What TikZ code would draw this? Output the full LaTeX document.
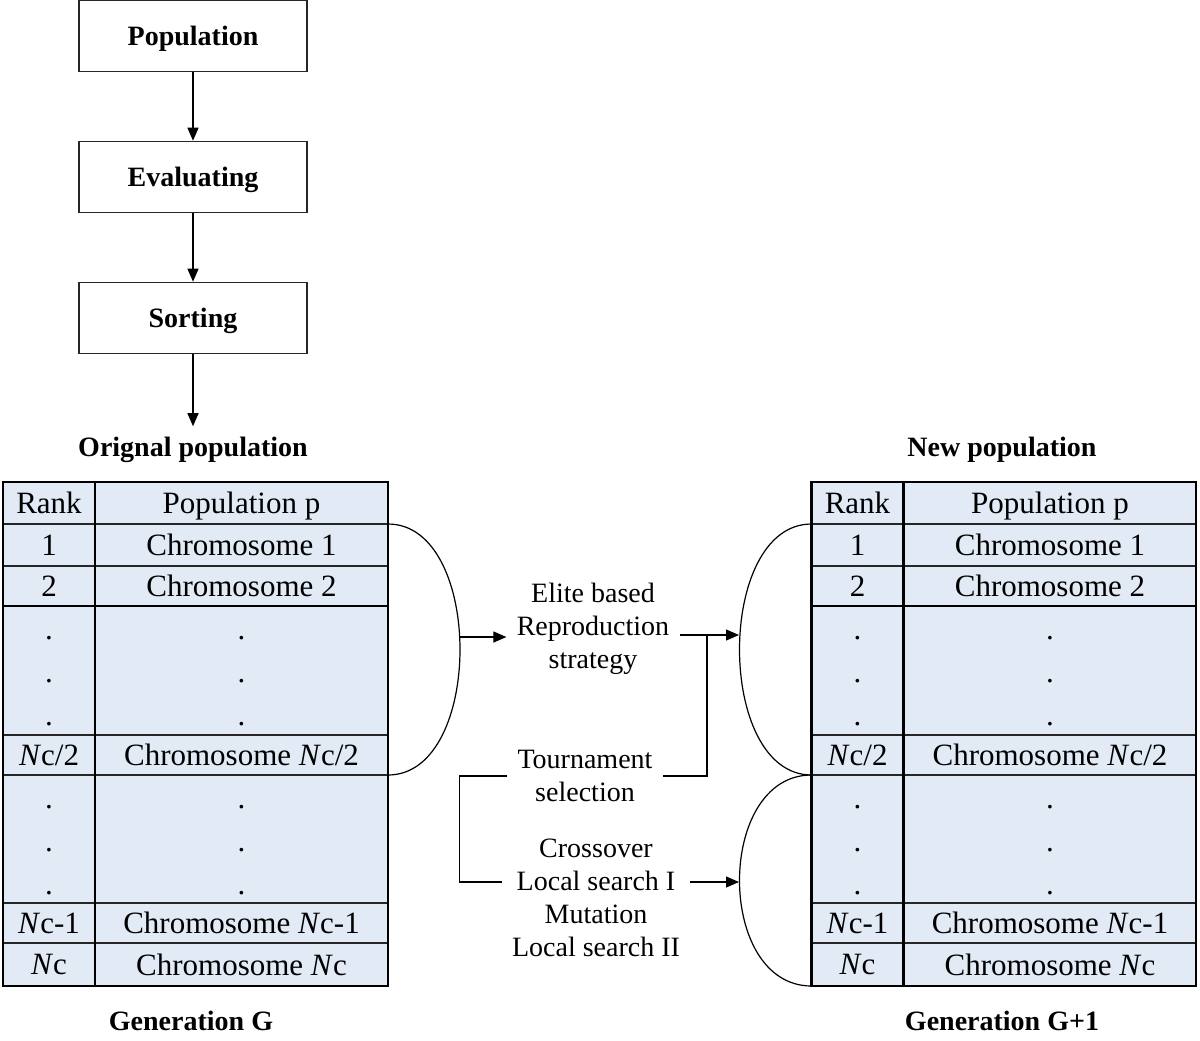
\documentclass[tikz,border=0pt]{standalone}
\usepackage{fontspec}
\setmainfont{Liberation Serif}
\usetikzlibrary{arrows.meta}
\definecolor{cellfill}{RGB}{226,234,246}
\newcommand{\vdotcol}{\rule{0pt}{12.5pt}.\\.\\.}

\begin{document}
\begin{tikzpicture}
[
    x=0.5pt,y=-0.5pt,
    stepbox/.style={rectangle,draw=black!85,line width=0.8pt,minimum width=114pt,minimum height=35.5pt,text depth=0pt,font=\fontsize{14}{17}\selectfont\bfseries},
    title/.style={text depth=0pt,font=\fontsize{14}{17}\selectfont\bfseries},
    cell/.style={rectangle,draw=black!85,fill=cellfill,line width=0.8pt,inner sep=0pt,outer sep=0pt,align=center,font=\fontsize{15.5}{21.5}\selectfont},
    rankcell/.style={cell,minimum width=46pt},
    popcell/.style={cell,minimum width=146.5pt},
    headcell/.style={text depth=0pt},
    oper/.style={align=center,inner sep=5pt,font=\fontsize{14}{16.5}\selectfont},
    flow/.style={-{Triangle[length=6.5pt,width=5.5pt]},line width=0.6pt},
    link/.style={line width=0.6pt},
    thickline/.style={line width=1.3pt}
]
\useasboundingbox (0,0) rectangle (1200,1040);

% flow at the top
\node (popu) at (193,36) [stepbox] {Population};
\node (eval) at (193,177) [stepbox] {Evaluating};
\node (sort) at (193,318) [stepbox] {Sorting};
\node (orig) at (193,447) [title] {Orignal population};
\node (newp) at (1002,447) [title] {New population};

\draw[flow] (popu) -- (eval);
\draw[flow] (eval) -- (sort);
\draw[flow,shorten >=2pt] (sort) -- (orig);

% generation G
\node at (49,503) [rankcell,headcell,minimum height=21pt] (lrank) {Rank};
\node at (241.5,503) [popcell,headcell,minimum height=21pt] (lpop) {Population p};
\node at (49,545) [rankcell,minimum height=21pt] (l1) {1};
\node at (241.5,545) [popcell,minimum height=21pt] (lp1) {Chromosome 1};
\node at (49,586) [rankcell,minimum height=20pt] (l2) {2};
\node at (241.5,586) [popcell,minimum height=20pt] (lp2) {Chromosome 2};
\node at (49,670.5) [rankcell,minimum height=64.5pt] (ld1) {\vdotcol};
\node at (241.5,670.5) [popcell,minimum height=64.5pt] (lpd1) {\vdotcol};
\node at (49,755) [rankcell,minimum height=20pt] (lh) {\textit{N}c/2};
\node at (241.5,755) [popcell,minimum height=20pt] (lph) {Chromosome \textit{N}c/2};
\node at (49,839) [rankcell,minimum height=64pt] (ld2) {\vdotcol};
\node at (241.5,839) [popcell,minimum height=64pt] (lpd2) {\vdotcol};
\node at (49,923) [rankcell,minimum height=20pt] (ln1) {\textit{N}c-1};
\node at (241.5,923) [popcell,minimum height=20pt] (lpn1) {Chromosome \textit{N}c-1};
\node at (49,964.5) [rankcell,minimum height=21.5pt] (ln) {\textit{N}c};
\node at (241.5,964.5) [popcell,minimum height=21.5pt] (lpn) {Chromosome \textit{N}c};
\draw[thickline] (lrank.north west) rectangle (lpn.south east);
\draw[thickline] (lrank.north east) -- (ln.south east);
\draw[thickline] (l2.south west) -- (lp2.south east);
\node (geng) at (191,1021) [title] {Generation G};

% generation G+1
\node at (857.5,503) [rankcell,headcell,minimum height=21pt] (rrank) {Rank};
\node at (1050,503) [popcell,headcell,minimum width=146pt,minimum height=21pt] (rpop) {Population p};
\node at (857.5,545) [rankcell,minimum height=21pt] (r1) {1};
\node at (1050,545) [popcell,minimum width=146pt,minimum height=21pt] (rp1) {Chromosome 1};
\node at (857.5,586) [rankcell,minimum height=20pt] (r2) {2};
\node at (1050,586) [popcell,minimum width=146pt,minimum height=20pt] (rp2) {Chromosome 2};
\node at (857.5,670.5) [rankcell,minimum height=64.5pt] (rd1) {\vdotcol};
\node at (1050,670.5) [popcell,minimum width=146pt,minimum height=64.5pt] (rpd1) {\vdotcol};
\node at (857.5,755) [rankcell,minimum height=20pt] (rh) {\textit{N}c/2};
\node at (1050,755) [popcell,minimum width=146pt,minimum height=20pt] (rph) {Chromosome \textit{N}c/2};
\node at (857.5,839) [rankcell,minimum height=64pt] (rd2) {\vdotcol};
\node at (1050,839) [popcell,minimum width=146pt,minimum height=64pt] (rpd2) {\vdotcol};
\node at (857.5,923) [rankcell,minimum height=20pt] (rn1) {\textit{N}c-1};
\node at (1050,923) [popcell,minimum width=146pt,minimum height=20pt] (rpn1) {Chromosome \textit{N}c-1};
\node at (857.5,964.5) [rankcell,minimum height=21.5pt] (rn) {\textit{N}c};
\node at (1050,964.5) [popcell,minimum width=146pt,minimum height=21.5pt] (rpn) {Chromosome \textit{N}c};
\draw[thickline] (rrank.north west) rectangle (rpn.south east);
\draw[thickline] (rrank.north east) -- (rn.south east);
\draw[thickline] (r2.south west) -- (rp2.south east);
\node (gen1) at (1002,1021) [title] {Generation G+1};

% operators in the middle
\node (elite) at (593,629) [oper] {Elite based\\Reproduction\\strategy};
\node (tourn) at (585,776) [oper] {Tournament\\selection};
\node (ops) at (596,898) [oper] {Crossover\\Local search I\\Mutation\\Local search II};

\coordinate (lout) at (460,637);
\coordinate (rin1) at (739,635);
\coordinate (rin2) at (739,882);
\coordinate (tjoin) at (707,635);

\draw[link] (lp1.north east) .. controls +(96,0) and +(96,0) .. (lph.south east);
\draw[flow] (lout) -- (lout -| elite.west);
\draw[flow] (elite.east |- rin1) -- (rin1);
\draw[link] (tourn.east) -| (tjoin);
\draw[link] (tourn.west) -- ++(-48,0) |- ([yshift=8pt]ops.west);
\draw[flow] (rin2 -| ops.east) -- (rin2);
\draw[link] (r1.north west) .. controls +(-96,0) and +(-96,0) .. (rh.south west);
\draw[link] (rh.south west) .. controls +(-96,0) and +(-96,0) .. (rn.south west);

\end{tikzpicture}
\end{document}
